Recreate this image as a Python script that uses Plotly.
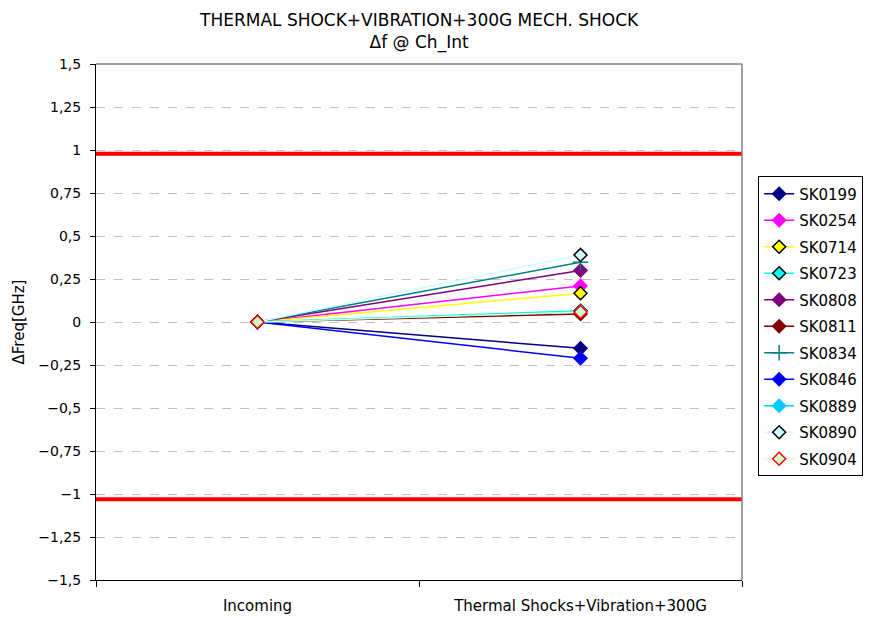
import plotly.graph_objects as go

# categories on the x axis
stages = ["Incoming", "Thermal Shocks+Vibration+300G"]

# device names, in legend order
devices = ["SK0199", "SK0254", "SK0714", "SK0723", "SK0808", "SK0811",
           "SK0834", "SK0846", "SK0889", "SK0890", "SK0904"]

# delta frequency [GHz] per stage
incoming = [0, 0, 0, 0, 0, 0, 0, 0, 0, 0, 0]
after_test = [-0.153, 0.21, 0.167, 0.065, 0.30, 0.047, 0.347, -0.211, 0.06, 0.39, 0.058]

# limit lines
limits = [0.978, -1.03]

line_colors = ["#000080", "#FF00FF", "#FFFF00", "#00FFFF", "#800080", "#800000",
               "#008080", "#0000FF", "#00CCFF", "#CCFFFF", "#CCFFCC"]
marker_fill = ["#000080", "#FF00FF", "#FFFF00", "#00FFFF", "#800080", "#800000",
               "#008080", "#0000FF", "#00CCFF", "#CCFFFF", "#CCFFCC"]
marker_edge = ["#000080", "#FF00FF", "#000000", "#000000", "#800080", "#800000",
               "#008080", "#0000FF", "#00CCFF", "#000000", "#FF0000"]
symbols = ["diamond"] * 6 + ["cross-thin"] + ["diamond"] * 4

FONT = "DejaVu Sans, Liberation Sans, Arial, sans-serif"

fig = go.Figure()

for i, name in enumerate(devices):
    fig.add_trace(
        go.Scatter(
            x=stages,
            y=[incoming[i], after_test[i]],
            mode="lines+markers",
            name=name,
            legendgroup=name,
            line=dict(color=line_colors[i], width=1.5),
            marker=dict(
                symbol=symbols[i],
                size=10 if symbols[i] == "diamond" else 11,
                color=marker_fill[i],
                line=dict(color=marker_edge[i], width=1.5),
            ),
        )
    )

# red limit lines
for lim in limits:
    fig.add_hline(y=lim, line=dict(color="#FF0000", width=4), layer="above")

# gray top / right frame
fig.add_shape(type="line", xref="paper", yref="paper", x0=0, x1=1, y0=1, y1=1,
              line=dict(color="#808080", width=1.5))
fig.add_shape(type="line", xref="paper", yref="paper", x0=1, x1=1, y0=0, y1=1,
              line=dict(color="#808080", width=1.5))

# two-line title
fig.add_annotation(
    text="THERMAL SHOCK+VIBRATION+300G MECH. SHOCK<br>Δf @ Ch_Int",
    xref="paper", yref="paper",
    x=0.5, y=1.018,
    xanchor="center", yanchor="bottom",
    showarrow=False,
    font=dict(size=17),
)

fig.update_layout(
    width=866,
    height=610,
    margin=dict(l=88, r=132, t=56, b=38, autoexpand=False),
    plot_bgcolor="white",
    paper_bgcolor="white",
    separators=",.",
    font=dict(family=FONT, size=14, color="black"),
    showlegend=True,
    legend=dict(
        x=1.025,
        xanchor="left",
        y=0.782,
        yanchor="top",
        bordercolor="black",
        borderwidth=1,
        bgcolor="white",
        font=dict(size=15),
        traceorder="grouped",
        tracegroupgap=4,
    ),
)

fig.update_xaxes(
    type="category",
    range=[-0.5, 1.5],
    tickson="boundaries",
    ticks="outside",
    ticklen=6,
    tickcolor="black",
    showline=True,
    linecolor="black",
    linewidth=1,
    showgrid=False,
    automargin=False,
    ticklabelstandoff=12,
    tickfont=dict(size=15),
)

fig.update_yaxes(
    range=[-1.5, 1.5],
    dtick=0.25,
    tick0=0,
    ticks="outside",
    ticklen=5,
    tickcolor="black",
    showline=True,
    linecolor="black",
    linewidth=1,
    showgrid=True,
    gridcolor="#C0C0C0",
    griddash="dash",
    zeroline=False,
    automargin=False,
    ticklabelstandoff=6,
    title=dict(text="ΔFreq[GHz]", font=dict(size=15), standoff=10),
    tickfont=dict(size=14),
)

fig.write_html("out.html")
